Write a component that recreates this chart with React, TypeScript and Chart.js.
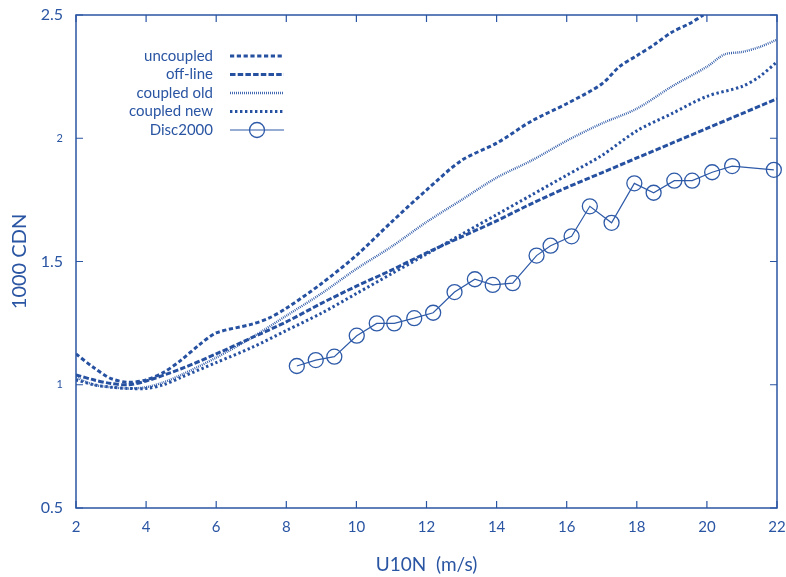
import React, { useEffect, useRef } from 'react';
import { Chart, registerables } from 'chart.js';
Chart.register(...registerables);

const BLUE = '#2a55a3';
const FONT = 'Lato, "Open Sans", sans-serif';

const seriesLabels = ['uncoupled', 'off-line', 'coupled old', 'coupled new', 'Disc2000'];
const xTicks = [2, 4, 6, 8, 10, 12, 14, 16, 18, 20, 22];
const yTicks = [0.5, 1, 1.5, 2, 2.5];

const uncoupledU = [2, 2.5, 3, 3.5, 4, 4.5, 5, 5.5, 6, 7, 7.5, 8, 9, 10, 11, 12, 13, 14, 15, 16, 17, 17.5, 18, 18.5, 19, 19.5, 19.9];
const uncoupledCd = [1.125, 1.07, 1.025, 1.01, 1.02, 1.05, 1.1, 1.16, 1.21, 1.245, 1.27, 1.31, 1.41, 1.525, 1.66, 1.79, 1.91, 1.98, 2.07, 2.14, 2.22, 2.29, 2.335, 2.38, 2.43, 2.465, 2.5];

const offlineU = [2, 2.5, 3, 3.5, 4, 5, 6, 7, 8, 9, 10, 11, 12, 13, 14, 15, 16, 17, 18, 19, 20, 21, 22];
const offlineCd = [1.04, 1.02, 1.005, 1.0, 1.015, 1.065, 1.125, 1.19, 1.255, 1.33, 1.4, 1.465, 1.535, 1.6, 1.665, 1.735, 1.8, 1.86, 1.92, 1.98, 2.04, 2.1, 2.16];

const coupledOldU = [2, 2.5, 3, 3.5, 4, 4.5, 5, 6, 7, 8, 9, 10, 11, 12, 13, 14, 15, 16, 17, 18, 19, 20, 20.5, 21, 21.5, 22];
const coupledOldCd = [1.03, 1.0, 0.99, 0.985, 0.99, 1.01, 1.04, 1.11, 1.19, 1.28, 1.37, 1.47, 1.56, 1.66, 1.75, 1.84, 1.91, 1.99, 2.06, 2.12, 2.21, 2.29, 2.34, 2.35, 2.37, 2.4];

const coupledNewU = [2, 2.5, 3, 3.5, 4, 4.5, 5, 6, 7, 8, 9, 10, 11, 12, 13, 14, 15, 16, 17, 18, 19, 20, 21, 21.5, 22];
const coupledNewCd = [1.02, 1.0, 0.99, 0.985, 0.985, 1.0, 1.03, 1.09, 1.15, 1.22, 1.29, 1.37, 1.45, 1.53, 1.61, 1.69, 1.77, 1.85, 1.93, 2.03, 2.1, 2.17, 2.21, 2.25, 2.31];

const discU = [8.3, 8.84, 9.37, 10.01, 10.58, 11.08, 11.65, 12.19, 12.8, 13.38, 13.89, 14.46, 15.14, 15.54, 16.14, 16.66, 17.28, 17.93, 18.48, 19.07, 19.58, 20.15, 20.72, 21.91];
const discCd = [1.076, 1.1, 1.114, 1.199, 1.249, 1.249, 1.27, 1.292, 1.376, 1.428, 1.405, 1.412, 1.524, 1.564, 1.602, 1.724, 1.657, 1.817, 1.779, 1.828, 1.828, 1.862, 1.887, 1.872];

const pts = (xs: number[], ys: number[]) => xs.map((x, i) => ({ x, y: ys[i] }));

const framePlugin = {
  id: 'frame',
  afterDatasetsDraw(chart: any) {
    const { ctx, chartArea: a, scales } = chart;
    const x = scales.x, y = scales.y;
    ctx.save();
    ctx.strokeStyle = BLUE;
    ctx.setLineDash([]);
    ctx.lineWidth = 1.5;
    ctx.strokeRect(a.left, a.top, a.right - a.left, a.bottom - a.top);
    ctx.lineWidth = 1.2;
    const L = 7;
    ctx.beginPath();
    xTicks.forEach((v) => {
      const px = x.getPixelForValue(v);
      ctx.moveTo(px, a.bottom); ctx.lineTo(px, a.bottom - L);
      ctx.moveTo(px, a.top); ctx.lineTo(px, a.top + L);
    });
    yTicks.forEach((v) => {
      const py = y.getPixelForValue(v);
      ctx.moveTo(a.left, py); ctx.lineTo(a.left + L, py);
      ctx.moveTo(a.right, py); ctx.lineTo(a.right - L, py);
    });
    ctx.stroke();

    // legend
    const textRight = a.left + 137;
    const sx0 = a.left + 154;
    const sx1 = a.left + 208;
    chart.data.datasets.forEach((ds: any, i: number) => {
      const row = a.top + 41 + i * 18.5;
      ctx.font = `15px ${FONT}`;
      ctx.fillStyle = BLUE;
      ctx.textAlign = 'right';
      ctx.textBaseline = 'middle';
      ctx.fillText(ds.label, textRight, row);
      ctx.strokeStyle = ds.borderColor;
      ctx.lineWidth = ds.borderWidth;
      ctx.setLineDash(ds.borderDash || []);
      ctx.beginPath();
      ctx.moveTo(sx0, row);
      ctx.lineTo(sx1, row);
      ctx.stroke();
      if (ds.pointRadius > 0) {
        ctx.setLineDash([]);
        ctx.lineWidth = ds.pointBorderWidth;
        ctx.beginPath();
        ctx.arc((sx0 + sx1) / 2, row, ds.pointRadius, 0, Math.PI * 2);
        ctx.stroke();
      }
    });
    ctx.restore();
  },
};

export default function App() {
  const ref = useRef<HTMLCanvasElement>(null);
  useEffect(() => {
    if (!ref.current) return;
    const common = { fill: false, tension: 0.3, pointRadius: 0, borderColor: '#2650a0' };
    const chart = new Chart(ref.current, {
      type: 'line',
      data: {
        datasets: [
          { ...common, label: seriesLabels[0], data: pts(uncoupledU, uncoupledCd), borderWidth: 3, borderDash: [4.2, 2.6] },
          { ...common, label: seriesLabels[1], data: pts(offlineU, offlineCd), borderWidth: 3, borderDash: [5.5, 2.2] },
          { ...common, label: seriesLabels[2], data: pts(coupledOldU, coupledOldCd), borderWidth: 2.4, borderDash: [0.9, 1.1], borderColor: '#2f5aa8' },
          { ...common, label: seriesLabels[3], data: pts(coupledNewU, coupledNewCd), borderWidth: 3, borderDash: [2.4, 2.6] },
          {
            label: seriesLabels[4], data: pts(discU, discCd), borderColor: '#2e5aa8', borderWidth: 1.2, tension: 0,
            pointRadius: 7.5, pointBorderWidth: 1.3, pointBackgroundColor: 'rgba(0,0,0,0)', pointBorderColor: '#2e5aa8',
            pointHoverRadius: 7.5, fill: false, clip: { left: 10, right: 10, top: 0, bottom: 0 },
          } as any,
        ],
      },
      options: {
        responsive: false,
        animation: false,
        events: [],
        layout: { padding: { top: 15, right: 9, left: 0, bottom: 0 } },
        plugins: { legend: { display: false }, tooltip: { enabled: false } },
        scales: {
          x: {
            type: 'linear', min: 2, max: 22,
            afterBuildTicks: (s: any) => { s.ticks = xTicks.map((v) => ({ value: v })); },
            afterFit: (s: any) => { s.height = 69; s.paddingLeft = 0; s.paddingRight = 0; },
            grid: { display: false, drawTicks: false },
            border: { display: false },
            ticks: { color: BLUE, font: { family: FONT, size: 15 }, padding: 10, maxRotation: 0, callback: (v: any) => String(v) },
            title: { display: true, text: 'U10N  (m/s)', color: BLUE, font: { family: FONT, size: 19 }, padding: { top: 0, bottom: 1 } },
          },
          y: {
            type: 'linear', min: 0.5, max: 2.5,
            afterBuildTicks: (s: any) => { s.ticks = yTicks.map((v) => ({ value: v })); },
            afterFit: (s: any) => { s.width = 76; s.paddingTop = 0; s.paddingBottom = 0; },
            grid: { display: false, drawTicks: false },
            border: { display: false },
            ticks: {
              color: BLUE, padding: 13, callback: (v: any) => String(v),
              font: (c: any) => ({ family: FONT, size: c && c.tick && Number.isInteger(c.tick.value) ? 11 : 16 }),
            },
            title: { display: true, text: '1000 CDN', color: BLUE, font: { family: FONT, size: 20 }, padding: { top: 8, bottom: 0 } },
          },
        },
      },
      plugins: [framePlugin],
    } as any);
    return () => chart.destroy();
  }, []);
  return (
    <div style={{ position: 'absolute', left: 0, top: 0, width: 786, height: 577, background: '#fff' }}>
      <canvas ref={ref} width={786} height={577} />
    </div>
  );
}
